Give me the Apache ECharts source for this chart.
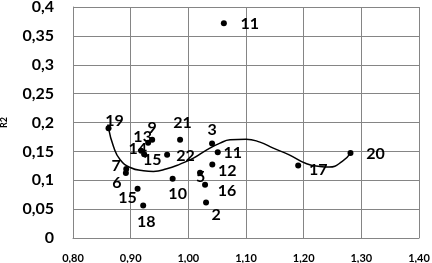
<!DOCTYPE html>
<html>
<head>
<meta charset="utf-8">
<script src="https://cdn.jsdelivr.net/npm/echarts@6/dist/echarts.min.js"></script>
<style>
html,body{margin:0;padding:0;background:#fff;}
#c{width:432px;height:263px;}
</style>
</head>
<body>
<div id="c"></div>
<script>
// ---- data ----
var pointLabels = ['19','9','13','14','15','22','7','6','15','18','10','21','3','11','12','5','16','2','17','20','11'];
var pointX = [0.8616,0.9373,0.9303,0.9182,0.9234,0.9632,0.8923,0.8917,0.9120,0.9217,0.9728,0.9857,1.0411,1.0510,1.0416,1.0203,1.0290,1.0307,1.1905,1.2812,1.0616];
var pointY = [0.1902,0.1700,0.1648,0.1510,0.1452,0.1440,0.1193,0.1124,0.0852,0.0564,0.1025,0.1700,0.1636,0.1487,0.1273,0.1129,0.0922,0.0616,0.1255,0.1470,0.3718];

var trendX = [0.8616,0.8702,0.8818,0.8992,0.9222,0.9395,0.9627,0.9857,1.0088,1.0320,1.0550,1.0723,1.1000,1.1242,1.1473,1.1750,1.2051,1.2281,1.2442,1.2669,1.2812];
var trendY = [0.1902,0.1584,0.1354,0.1221,0.1164,0.1152,0.1198,0.1280,0.1383,0.1527,0.1643,0.1700,0.1712,0.1660,0.1556,0.1440,0.1285,0.1238,0.1228,0.1325,0.1470];

var xTickLabels = ['0,80','0,90','1,00','1,10','1,20','1,30','1,40'];
var yTickLabels = ['0','0,05','0,1','0,15','0,2','0,25','0,3','0,35','0,4'];
var yAxisTitle = 'R2';

// ---- layout (label offsets, px) ----
var labelOffsets = [[6,-7],[0,-12],[-5.5,-5.5],[-3.5,-2],[8,6],[18.5,1.5],[-10,-3],[-9,10],[-10,9],[3,16],[5,15],[2.5,-16.5],[0,-14],[15,1],[15,6],[0.5,4],[22,6],[10,12],[20,4],[25,1],[26,1]];

var FONT = 'Lato';
var scatterData = pointX.map(function(x,i){
  return {
    value:[x, pointY[i]],
    name: pointLabels[i],
    label:{offset: labelOffsets[i]}
  };
});
var trendData = trendX.map(function(x,i){ return [x, trendY[i]]; });

var chart = echarts.init(document.getElementById('c'), null, {renderer:'canvas'});
chart.setOption({
  animation:false,
  backgroundColor:'#fff',
  grid:{left:73, right:13, top:7, bottom:25, containLabel:false, outerBoundsMode:'none'},
  xAxis:{
    type:'value', min:0.8, max:1.4, interval:0.1,
    axisLine:{show:true, lineStyle:{color:'#858585', width:1}},
    axisTick:{show:false},
    splitLine:{show:true, lineStyle:{color:'#858585', width:1}},
    axisLabel:{
      margin:15, color:'#000', fontFamily:FONT, fontWeight:'bold', fontSize:11,
      formatter:function(v,idx){ return xTickLabels[idx]; }
    }
  },
  yAxis:{
    type:'value', min:0, max:0.4, interval:0.05,
    name:yAxisTitle, nameLocation:'middle', nameRotate:90, nameGap:64,
    nameTextStyle:{color:'#000', fontFamily:FONT, fontWeight:'bold', fontSize:9},
    axisLine:{show:true, lineStyle:{color:'#858585', width:1}},
    axisTick:{show:false},
    splitLine:{show:true, lineStyle:{color:'#858585', width:1}},
    axisLabel:{
      margin:19, color:'#000', fontFamily:FONT, fontWeight:'bold', fontSize:16,
      formatter:function(v,idx){ return yTickLabels[idx]; }
    }
  },
  series:[
    {
      type:'line', data:trendData, smooth:true, showSymbol:false, symbol:'none',
      lineStyle:{color:'#000', width:1.5}, z:3, silent:true
    },
    {
      type:'scatter', data:scatterData, symbol:'circle', symbolSize:6,
      itemStyle:{color:'#000', opacity:1}, z:4,
      label:{
        show:true, position:'inside', color:'#000', opacity:1,
        textBorderWidth:0,
        fontFamily:FONT, fontWeight:'bold', fontSize:16,
        formatter:function(p){ return p.name; }
      }
    }
  ]
});
</script>
</body>
</html>
